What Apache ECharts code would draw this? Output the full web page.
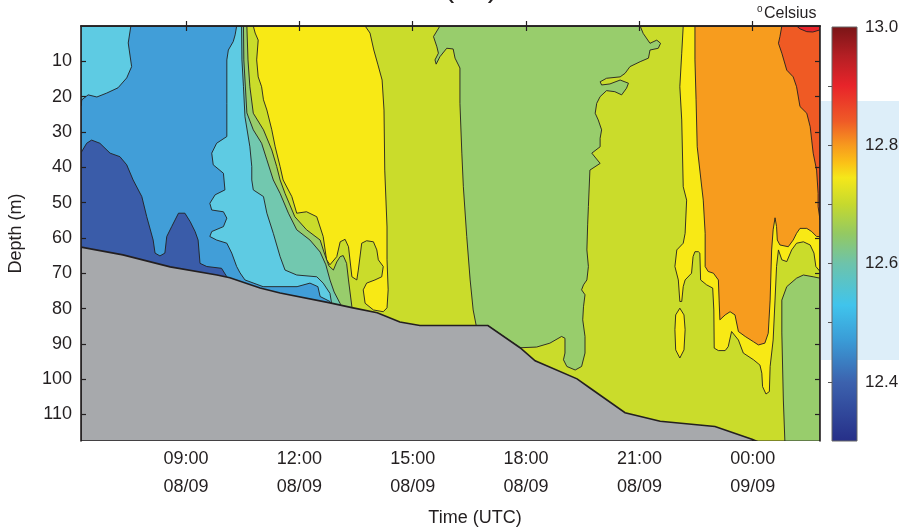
<!DOCTYPE html>
<html>
<head>
<meta charset="utf-8">
<script src="https://cdn.jsdelivr.net/npm/echarts@6/dist/echarts.min.js"></script>
<style>
  html, body { margin: 0; padding: 0; background: #fff; }
  #tempSection { width: 899px; height: 532px; }
</style>
</head>
<body>
<div id="tempSection"></div>
<script>
// time = hours since 08/09 00:00 UTC, depth in m
const timeRange = [6.22, 25.78];
const depthRange = [0, 117.5];
const timeTicks = [9, 12, 15, 18, 21, 24];
const timeLabels = ["09:00\n08/09", "12:00\n08/09", "15:00\n08/09", "18:00\n08/09", "21:00\n08/09", "00:00\n09/09"];
const depthTicks = [10, 20, 30, 40, 50, 60, 70, 80, 90, 100, 110];
const tempRange = [12.3, 13.0];
const tempTicks = [12.4, 12.5, 12.6, 12.7, 12.8, 12.9];
const tempLabels = [12.4, 12.6, 12.8, 13.0];

// contour band temperatures (degC) and their fill colours
const levelTemps = [12.41, 12.46, 12.52, 12.58, 12.64, 12.68, 12.72, 12.8, 12.87, 12.93];
const levelColors = ["#3A5CA9", "#419ED8", "#5ECBE3", "#72C8AF", "#98CD6C", "#CADC2B", "#F8E915", "#F79C1E", "#EF5A24", "#E8252B"];

// colour bar stops (temperature -> colour)
const barTemps = [13.0, 12.95, 12.9, 12.84, 12.8, 12.77, 12.745, 12.7, 12.65, 12.6, 12.53, 12.47, 12.4, 12.3];
const barColors = ["#7A1517", "#B51F24", "#E8242A", "#EF5B27", "#F7991E", "#FBC117", "#F5E71A", "#C6D92E", "#93C963", "#6DC3AB", "#40C4EC", "#3A9BD6", "#3C62AE", "#262F88"];

// contour regions, [time, depth]
const baseArea = [[6.22, 0], [25.78, 0], [25.78, 117.5], [6.22, 117.5]];

const yellowLeft = [[10.78, 0], [13.74, 0], [13.87, 2.0], [13.97, 6.8], [14.08, 11.0], [14.19, 15.3], [14.24, 23.8], [14.26, 40.8], [14.32, 56.9], [14.32, 66.2], [14.35, 74.7], [14.32, 79.8], [14.22, 80.9], [13.96, 80.4], [13.74, 78.5], [13.69, 74.7], [13.78, 72.8], [14.0, 71.9], [14.18, 71.0], [14.22, 68.1], [14.09, 66.2], [14.05, 63.4], [13.96, 61.1], [13.78, 60.8], [13.65, 61.5], [13.56, 69.1], [13.52, 71.9], [13.39, 71.0], [13.3, 62.5], [13.21, 60.4], [13.08, 61.1], [12.99, 65.3], [12.81, 67.6], [12.72, 66.2], [12.63, 59.6], [12.46, 54.0], [12.19, 52.6], [11.93, 53.0], [11.8, 48.3], [11.57, 43.6], [11.49, 39.8], [11.36, 34.2], [11.27, 29.4], [11.14, 23.8], [11.05, 20.9], [11.0, 17.2], [10.91, 14.4], [10.87, 9.6], [10.91, 4.0], [10.83, 2.0]];

const greenLeft = [[6.22, 0], [10.61, 0], [10.64, 9.6], [10.69, 17.2], [10.78, 24.7], [11.05, 29.4], [11.27, 35.1], [11.4, 39.8], [11.49, 43.6], [11.62, 47.4], [11.88, 54.0], [12.19, 57.7], [12.55, 60.6], [12.65, 64.0], [12.78, 67.9], [12.9, 69.1], [12.99, 66.8], [13.08, 65.3], [13.16, 65.0], [13.25, 67.2], [13.3, 71.9], [13.39, 79.5], [13.42, 83.2], [13.42, 117.5], [6.22, 117.5]];

const tealLeft = [[6.22, 0], [10.52, 0], [10.53, 9.6], [10.61, 24.6], [10.78, 29.4], [11.0, 33.2], [11.14, 37.9], [11.31, 43.6], [11.49, 47.4], [11.71, 53.0], [11.93, 57.7], [12.28, 60.6], [12.55, 64.0], [12.7, 67.6], [12.81, 71.9], [12.92, 75.3], [13.1, 79.0], [13.15, 83.2], [13.15, 117.5], [6.22, 117.5]];

const cyanLeft = [[6.22, 0], [10.47, 0], [10.48, 9.6], [10.52, 17.2], [10.56, 25.7], [10.69, 34.2], [10.74, 39.8], [10.74, 43.6], [10.78, 46.4], [11.05, 48.3], [11.14, 53.0], [11.31, 58.7], [11.49, 65.3], [11.62, 69.1], [11.93, 70.5], [12.46, 71.0], [12.63, 72.8], [12.81, 75.7], [12.86, 79.0], [12.86, 83.2], [12.86, 117.5], [6.22, 117.5]];

const blueLeft = [[6.22, 0], [10.34, 0], [10.3, 2.5], [10.25, 4.4], [10.12, 6.8], [10.08, 9.6], [10.08, 21.9], [10.08, 31.3], [9.81, 33.2], [9.68, 36.0], [9.72, 39.3], [9.99, 41.7], [10.03, 46.4], [9.77, 47.8], [9.63, 50.2], [9.68, 52.1], [9.99, 52.6], [10.08, 54.4], [9.99, 56.8], [9.68, 58.2], [9.63, 59.6], [9.81, 60.6], [10.08, 61.5], [10.21, 64.3], [10.34, 68.1], [10.43, 69.9], [10.56, 71.9], [11.04, 73.8], [11.94, 73.8], [12.28, 72.8], [12.49, 73.8], [12.55, 76.6], [12.81, 78.0], [12.94, 83.2], [12.94, 117.5], [6.22, 117.5]];

const darkBlue = [[6.22, 35.9], [6.37, 33.2], [6.5, 32.3], [6.72, 33.2], [6.99, 36.0], [7.25, 37.0], [7.43, 39.3], [7.6, 43.6], [7.83, 48.3], [7.96, 54.0], [8.13, 60.6], [8.18, 64.3], [8.31, 65.1], [8.44, 64.3], [8.49, 59.6], [8.62, 56.8], [8.8, 53.0], [8.97, 53.0], [9.11, 55.4], [9.24, 58.2], [9.32, 60.6], [9.37, 67.2], [9.55, 68.1], [9.94, 68.6], [10.08, 71.0], [10.22, 77.6], [6.22, 77.6]];

const cyanTop = [[6.22, 0], [7.54, 0], [7.47, 4.8], [7.56, 11.5], [7.43, 14.7], [7.2, 17.5], [6.9, 19.0], [6.64, 20.1], [6.41, 19.5], [6.24, 20.9], [6.22, 22.6]];

const greenMid = [[15.72, 0], [15.55, 3.0], [15.64, 5.9], [15.68, 7.7], [15.59, 9.6], [15.62, 10.8], [15.72, 8.7], [15.9, 6.3], [16.07, 6.5], [16.12, 9.1], [16.25, 11.9], [16.25, 21.9], [16.3, 36.0], [16.34, 45.5], [16.43, 59.6], [16.52, 71.9], [16.6, 80.4], [16.68, 84.8], [16.99, 84.8], [17.84, 91.1], [18.28, 90.9], [18.63, 89.8], [18.94, 87.9], [19.03, 88.4], [19.03, 92.6], [18.99, 94.5], [19.08, 96.4], [19.3, 97.4], [19.47, 96.4], [19.56, 92.6], [19.56, 87.9], [19.5, 83.2], [19.52, 79.5], [19.56, 76.1], [19.47, 74.7], [19.52, 73.3], [19.61, 71.9], [19.65, 68.1], [19.61, 63.4], [19.63, 56.3], [19.65, 51.1], [19.69, 40.8], [19.96, 38.9], [19.74, 36.0], [19.96, 34.2], [19.96, 31.8], [20.0, 29.4], [19.91, 26.6], [19.83, 24.7], [19.87, 21.9], [19.96, 20.0], [20.13, 18.3], [20.35, 18.6], [20.53, 19.5], [20.66, 17.6], [20.71, 16.2], [20.49, 15.3], [20.22, 16.4], [20.0, 16.7], [19.96, 15.8], [20.13, 14.8], [20.49, 14.4], [20.62, 13.4], [20.75, 11.5], [21.02, 10.1], [21.24, 9.1], [21.28, 6.8], [21.5, 6.3], [21.56, 4.9], [21.46, 4.0], [21.28, 4.9], [21.1, 2.1], [21.02, 0]];

const yellowRight = [[22.16, 0], [22.12, 7.7], [22.07, 17.2], [22.12, 26.6], [22.16, 45.5], [22.25, 49.3], [22.21, 58.7], [22.16, 61.5], [21.99, 63.4], [21.94, 68.1], [22.03, 71.9], [22.07, 78.0], [22.12, 78.0], [22.16, 73.8], [22.21, 71.9], [22.38, 70.0], [22.42, 65.3], [22.47, 63.9], [22.56, 63.9], [22.6, 64.3], [22.62, 71.9], [22.78, 73.3], [22.94, 74.2], [22.97, 80.4], [22.98, 91.2], [23.09, 91.9], [23.27, 91.9], [23.35, 90.8], [23.44, 86.5], [23.62, 88.9], [23.75, 92.6], [24.02, 94.5], [24.19, 96.0], [24.24, 98.3], [24.26, 102.1], [24.35, 104.2], [24.44, 103.5], [24.46, 96.4], [24.54, 88.9], [24.59, 77.6], [24.63, 68.1], [24.68, 63.4], [24.77, 66.2], [24.9, 66.7], [25.03, 63.4], [25.16, 61.5], [25.34, 61.1], [25.52, 62.0], [25.62, 64.3], [25.67, 68.1], [25.78, 69.5], [25.78, 0]];

const yellowBlob = [[22.07, 79.9], [22.18, 81.8], [22.21, 86.0], [22.18, 91.7], [22.07, 94.0], [21.96, 91.7], [21.94, 86.0], [21.96, 81.8]];

const orangeArea = [[22.47, 0], [25.78, 0], [25.78, 59.6], [25.69, 59.6], [25.56, 58.2], [25.43, 57.3], [25.25, 57.3], [25.16, 58.7], [25.07, 60.6], [24.94, 62.5], [24.72, 62.0], [24.65, 60.6], [24.63, 56.8], [24.59, 54.3], [24.54, 57.7], [24.5, 63.4], [24.46, 77.6], [24.41, 87.0], [24.32, 89.8], [24.15, 90.3], [24.02, 89.4], [23.8, 87.9], [23.62, 86.5], [23.53, 81.8], [23.4, 80.9], [23.27, 81.8], [23.13, 83.2], [23.11, 77.6], [23.09, 71.9], [22.96, 70.0], [22.82, 69.5], [22.74, 68.1], [22.74, 58.7], [22.69, 49.3], [22.65, 45.6], [22.53, 34.2], [22.5, 20.9], [22.47, 9.6]];

const greenRight = [[25.78, 71.4], [25.6, 71.0], [25.34, 70.5], [25.16, 71.4], [24.9, 73.8], [24.77, 77.6], [24.77, 86.9], [24.81, 105.9], [24.85, 117.5], [25.78, 117.5]];

const redOrange = [[24.77, 0], [24.72, 3.0], [24.68, 4.9], [24.77, 7.7], [24.9, 12.5], [25.07, 14.4], [25.16, 17.2], [25.25, 22.8], [25.43, 24.7], [25.52, 28.5], [25.56, 32.3], [25.6, 36.0], [25.69, 40.8], [25.73, 47.4], [25.73, 51.1], [25.78, 54.9], [25.78, 0]];

const redTop = [[25.16, 0], [25.25, 0.8], [25.43, 1.6], [25.59, 1.7], [25.78, 1.1], [25.78, 0]];

const seabed = [[6.22, 62.6], [7.33, 64.8], [8.58, 68.2], [9.82, 70.5], [10.16, 71.3], [10.96, 74.2], [11.49, 75.6], [12.81, 78.4], [13.42, 79.8], [14.06, 81.2], [14.66, 83.8], [15.19, 84.8], [16.99, 84.8], [17.84, 91.1], [18.24, 94.8], [19.35, 99.9], [19.69, 102.5], [20.62, 109.5], [21.55, 111.9], [23.0, 113.4], [23.98, 117.0], [24.09, 117.5], [6.22, 117.5]];

// drawing order: later regions paint over earlier ones
const layers = [
  { temp: 12.68, pts: baseArea },
  { temp: 12.72, pts: yellowLeft },
  { temp: 12.64, pts: greenLeft },
  { temp: 12.58, pts: tealLeft },
  { temp: 12.52, pts: cyanLeft },
  { temp: 12.46, pts: blueLeft },
  { temp: 12.41, pts: darkBlue },
  { temp: 12.52, pts: cyanTop },
  { temp: 12.64, pts: greenMid },
  { temp: 12.72, pts: yellowRight },
  { temp: 12.72, pts: yellowBlob },
  { temp: 12.8, pts: orangeArea },
  { temp: 12.64, pts: greenRight },
  { temp: 12.87, pts: redOrange },
  { temp: 12.93, pts: redTop }
];

const FONT = "'Liberation Sans', Arial, sans-serif";
const INK = "#231F20";

function colorFor(t) {
  return levelColors[levelTemps.indexOf(t)];
}

var myChart = echarts.init(document.getElementById("tempSection"), null, { renderer: "canvas" });

let option = {
  backgroundColor: "#fff",
  animation: false,
  textStyle: { fontFamily: FONT, color: INK },
  graphic: [
    {
      type: "rect",
      z: -1,
      shape: { x: 821, y: 101, width: 78, height: 259 },
      style: { fill: "#DDEEF9" }
    },
    {
      // title, mostly cut off by the top edge
      type: "text",
      x: 471,
      y: -26,
      style: { text: "(°C)", font: "30px " + FONT, fill: INK, textAlign: "center", textVerticalAlign: "top" }
    },
    {
      type: "text",
      x: 757,
      y: 4,
      style: { text: "o", font: "10px " + FONT, fill: INK }
    },
    {
      type: "text",
      x: 764,
      y: 6,
      style: { text: "Celsius", font: "16px " + FONT, fill: INK }
    },
    {
      type: "text",
      x: 475,
      y: 518,
      style: { text: "Time (UTC)", font: "18px " + FONT, fill: INK, textAlign: "center", textVerticalAlign: "middle" }
    }
  ],
  grid: [
    { left: 81, right: 79, top: 26, bottom: 91, outerBoundsMode: "none", containLabel: false },
    { left: 832, width: 25, top: 27, height: 414, outerBoundsMode: "none", containLabel: false }
  ],
  xAxis: [
    {
      type: "value",
      gridIndex: 0,
      min: timeRange[0],
      max: timeRange[1],
      z: 10,
      axisLine: { lineStyle: { color: INK, width: 1.6 } },
      axisTick: { inside: true, length: 5, customValues: timeTicks, lineStyle: { color: INK, width: 1.2 } },
      axisLabel: {
        customValues: timeTicks,
        margin: 4,
        fontSize: 18,
        lineHeight: 28,
        color: INK,
        formatter: function (v) {
          return timeLabels[timeTicks.indexOf(v)];
        }
      },
      splitLine: { show: false }
    },
    {
      type: "value",
      gridIndex: 0,
      position: "top",
      min: timeRange[0],
      max: timeRange[1],
      z: 10,
      axisLine: { lineStyle: { color: INK, width: 1.6 } },
      axisTick: { inside: true, length: 5, customValues: timeTicks, lineStyle: { color: INK, width: 1.2 } },
      axisLabel: { show: false },
      splitLine: { show: false }
    },
    { type: "value", gridIndex: 1, min: 0, max: 1, show: false }
  ],
  yAxis: [
    {
      type: "value",
      gridIndex: 0,
      inverse: true,
      min: depthRange[0],
      max: depthRange[1],
      z: 10,
      name: "Depth (m)",
      nameLocation: "middle",
      nameGap: 56,
      nameTextStyle: { fontSize: 18, color: INK },
      axisLine: { lineStyle: { color: INK, width: 1.6 } },
      axisTick: { inside: true, length: 5, customValues: depthTicks, lineStyle: { color: INK, width: 1.2 } },
      axisLabel: { customValues: depthTicks, margin: 9, fontSize: 18, color: INK },
      splitLine: { show: false }
    },
    {
      type: "value",
      gridIndex: 0,
      position: "right",
      inverse: true,
      min: depthRange[0],
      max: depthRange[1],
      z: 10,
      axisLine: { lineStyle: { color: INK, width: 1.6 } },
      axisTick: { inside: true, length: 5, customValues: depthTicks, lineStyle: { color: INK, width: 1.2 } },
      axisLabel: { show: false },
      splitLine: { show: false }
    },
    {
      type: "value",
      gridIndex: 1,
      position: "right",
      min: tempRange[0],
      max: tempRange[1],
      z: 10,
      axisLine: { show: false },
      axisTick: { inside: true, length: 4, customValues: tempTicks, lineStyle: { color: "#555", width: 1 } },
      axisLabel: {
        customValues: tempLabels,
        margin: 8,
        fontSize: 17,
        color: INK,
        formatter: function (v) {
          return v.toFixed(1);
        }
      },
      splitLine: { show: false }
    }
  ],
  series: [
    {
      name: "temperature",
      type: "custom",
      xAxisIndex: 0,
      yAxisIndex: 0,
      clip: true,
      data: layers.map(function (l) {
        return [l.pts[0][0], l.pts[0][1], l.temp];
      }),
      renderItem: function (params, api) {
        var layer = layers[params.dataIndex];
        var points = layer.pts.map(function (p) {
          return api.coord(p);
        });
        return {
          type: "polygon",
          shape: { points: points },
          style: { fill: colorFor(layer.temp), stroke: INK, lineWidth: 0.9 }
        };
      }
    },
    {
      name: "seabed",
      type: "custom",
      xAxisIndex: 0,
      yAxisIndex: 0,
      clip: true,
      data: [seabed[0]],
      renderItem: function (params, api) {
        var points = seabed.map(function (p) {
          return api.coord(p);
        });
        return {
          type: "polygon",
          shape: { points: points },
          style: { fill: "#A7A9AC", stroke: INK, lineWidth: 1.6 }
        };
      }
    },
    {
      name: "colorbar",
      type: "custom",
      xAxisIndex: 2,
      yAxisIndex: 2,
      data: [[0, tempRange[1]]],
      renderItem: function (params, api) {
        var top = api.coord([0, tempRange[1]]);
        var bottom = api.coord([0, tempRange[0]]);
        var cs = params.coordSys;
        var span = tempRange[1] - tempRange[0];
        var stops = barTemps.map(function (t, i) {
          return { offset: (tempRange[1] - t) / span, color: barColors[i] };
        });
        return {
          type: "rect",
          shape: { x: cs.x, y: top[1], width: cs.width, height: bottom[1] - top[1] },
          style: {
            fill: new echarts.graphic.LinearGradient(0, 0, 0, 1, stops),
            stroke: "#666",
            lineWidth: 1
          }
        };
      }
    }
  ]
};

myChart.setOption(option);
</script>
</body>
</html>
